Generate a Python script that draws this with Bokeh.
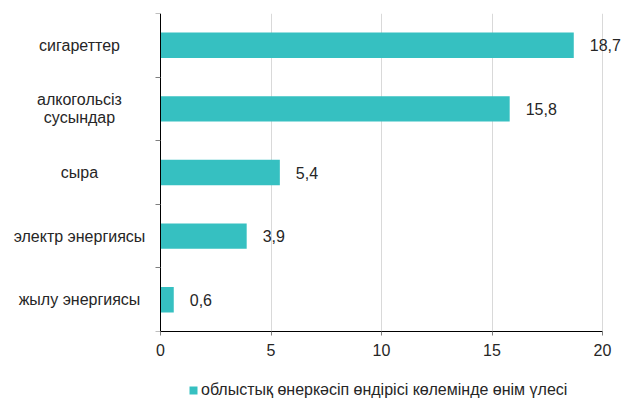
from bokeh.plotting import figure
from bokeh.layouts import column
from bokeh.models import (ColumnDataSource, Legend, LegendItem,
                          FixedTicker, Range1d)
from bokeh.core.properties import value
from bokeh.embed import file_html
from bokeh.resources import INLINE

categories = ["сигареттер", "алкогольсіз\nсусындар", "сыра",
              "электр энергиясы", "жылу энергиясы"]
values = [18.7, 15.8, 5.4, 3.9, 0.6]
series_name = "облыстық өнеркәсіп өндірісі көлемінде өнім үлесі"
x_ticks = [0, 5, 10, 15, 20]

FONT = "Liberation Sans"
FS = "16px"
TEXT = "#262626"
BAR = "#36C0C1"

# layout (pixels)
W = 621
H_MAIN, H_LEG = 372, 27
L, R, T, B = 10, 0, 13, 41          # frame borders of main figure
AXIS_X = 160                        # pixel where value 0 lies
AXIS_END = 602                      # pixel where value 20 lies
scale = (AXIS_END - AXIS_X) / x_ticks[-1]
x_start = -(AXIS_X - L) / scale
x_end = (W - R - AXIS_X) / scale

n = len(categories)
pos = [n - 1 - i + 0.5 for i in range(n)]
src = ColumnDataSource(dict(
    y=pos, value=values, cat=categories,
    vlab=[f"{v:.1f}".replace(".", ",") for v in values],
))

p = figure(width=W, height=H_MAIN, output_backend="svg", toolbar_location=None,
           x_range=Range1d(x_start, x_end), y_range=Range1d(0, n),
           min_border_left=L, min_border_right=R, min_border_top=T,
           min_border_bottom=B)
p.outline_line_color = None
p.background_fill_color = "white"
p.border_fill_color = "white"

p.hbar(y="y", left=0, right="value", height=0.4, source=src,
       fill_color=BAR, line_color=None)

# grid
p.ygrid.grid_line_color = None
p.xgrid.grid_line_color = "#d9d9d9"
p.xgrid.ticker = FixedTicker(ticks=x_ticks)

# x axis
xa = p.xaxis[0]
xa.ticker = FixedTicker(ticks=x_ticks)
xa.bounds = (x_ticks[0], x_ticks[-1])
xa.axis_line_color = "#000000"
xa.major_tick_line_color = "#7f7f7f"
xa.major_tick_out = 4
xa.major_tick_in = 0
xa.minor_tick_line_color = None
xa.major_label_text_font = FONT
xa.major_label_text_font_size = FS
xa.major_label_text_color = TEXT
xa.major_label_standoff = 8

# y axis at value 0 (category boundaries as ticks)
ya = p.yaxis[0]
ya.fixed_location = 0
ya.ticker = FixedTicker(ticks=list(range(n + 1)))
ya.axis_line_color = "#000000"
ya.major_tick_line_color = "#7f7f7f"
ya.major_tick_out = 5
ya.major_tick_in = 0
ya.minor_tick_line_color = None
ya.major_label_standoff = 0
ya.major_label_overrides = {i: "" for i in range(n + 1)}

# category labels
p.text(x=0, y="y", text="cat", source=src, x_offset=-81,
       text_align="center", text_baseline="middle",
       text_font=value(FONT), text_font_size=FS,
       text_color=TEXT, text_line_height=1.05)

# value labels
p.text(x="value", y="y", text="vlab", source=src, x_offset=16,
       text_align="left", text_baseline="middle",
       text_font=value(FONT), text_font_size=FS, text_color=TEXT)

# legend strip
q = figure(width=W, height=H_LEG, output_backend="svg", toolbar_location=None,
           x_axis_location=None, y_axis_location=None,
           x_range=Range1d(0, 1), y_range=Range1d(0, 1),
           min_border_left=0, min_border_right=0, min_border_top=0,
           min_border_bottom=0)
q.outline_line_color = None
q.xgrid.visible = False
q.ygrid.visible = False
lr = q.hbar(y="y", left=0, right="value", height=0.4, source=src,
            fill_color=BAR, line_color=None, visible=False)
legend = Legend(items=[LegendItem(label=series_name, renderers=[lr])],
                orientation="horizontal", location=(178, 0),
                label_text_font=FONT, label_text_font_size=FS,
                label_text_color=TEXT, glyph_width=10, glyph_height=10,
                label_height=16, label_standoff=3, padding=0, margin=0,
                border_line_color=None, background_fill_alpha=0)
q.add_layout(legend, "center")

layout = column(p, q, spacing=0)
open("out.html", "w").write(file_html(layout, INLINE))
